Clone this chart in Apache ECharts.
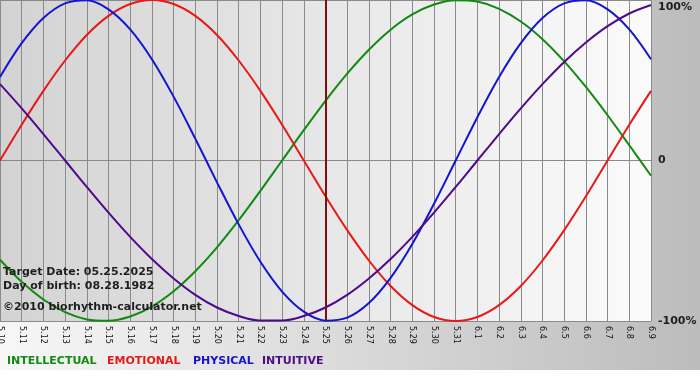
<!DOCTYPE html>
<html>
<head>
<meta charset="utf-8">
<script src="https://cdn.jsdelivr.net/npm/echarts@6/dist/echarts.min.js"></script>
<style>
  html, body { margin: 0; padding: 0; background: #fff; }
  #bio { width: 700px; height: 380px;
         background: linear-gradient(to right, #f7f7f7, #bcbcbc) top left / 100% 370px no-repeat, #fff; }
</style>
</head>
<body>
<div id="bio"></div>
<script>
/**
 * biorhythm chart 05.10 - 06.09
 */
var days = ['5.10','5.11','5.12','5.13','5.14','5.15','5.16','5.17','5.18','5.19','5.20',
            '5.21','5.22','5.23','5.24','5.25','5.26','5.27','5.28','5.29','5.30','5.31',
            '6.1','6.2','6.3','6.4','6.5','6.6','6.7','6.8','6.9'];
var intellectual = [-61.8,-75.6,-86.6,-94.5,-99.0,-99.9,-97.2,-91.0,-81.5,-69.0,-54.1,-37.2,-18.9,0,
                    18.9,37.2,54.1,69.0,81.5,91.0,97.2,99.9,99.0,94.5,86.6,75.6,61.8,45.8,28.2,9.5,-9.5];
var emotional    = [0,22.3,43.4,62.3,78.2,90.1,97.5,100,97.5,90.1,78.2,62.3,43.4,22.3,0,
                    -22.3,-43.4,-62.3,-78.2,-90.1,-97.5,-100,-97.5,-90.1,-78.2,-62.3,-43.4,-22.3,0,22.3,43.4];
var physical     = [52.0,73.1,88.8,97.9,99.8,94.2,81.7,63.1,39.8,13.6,-13.6,-39.8,-63.1,-81.7,-94.2,
                    -99.8,-97.9,-88.8,-73.1,-52.0,-27.0,0,27.0,52.0,73.1,88.8,97.9,99.8,94.2,81.7,63.1];
var intuitive    = [47.6,32.5,16.5,0,-16.5,-32.5,-47.6,-61.4,-73.5,-83.7,-91.6,-96.9,-99.7,-99.7,-96.9,
                    -91.6,-83.7,-73.5,-61.4,-47.6,-32.5,-16.5,0,16.5,32.5,47.6,61.4,73.5,83.7,91.6,96.9];
var targetDay = '5.25';
var yTicks = { '100': '100%', '0': '0', '-100': '-100%' };
var names = ['INTELLECTUAL', 'EMOTIONAL', 'PHYSICAL', 'INTUITIVE'];
var colors = ['#118a11', '#e81818', '#1414d2', '#4e0a8a'];
var infoLines = ['Target Date: 05.25.2025', 'Day of birth: 08.28.1982', '\u00a92010 biorhythm-calculator.net'];

var Bio = echarts.init(document.getElementById('bio'));
var font = 'DejaVu Sans, Verdana, sans-serif';

function mkSeries(i, data) {
    var s = {
        name: names[i],
        type: 'line',
        smooth: 0.35,
        symbol: 'none',
        data: data,
        lineStyle: { color: colors[i], width: 2 },
        itemStyle: { color: colors[i] },
        animation: false
    };
    return s;
}

var series = [mkSeries(0, intellectual), mkSeries(1, emotional), mkSeries(2, physical), mkSeries(3, intuitive)];
// target date line
series[0].markLine = {
    silent: true,
    symbol: ['none', 'none'],
    label: { show: false },
    lineStyle: { color: '#7a1212', width: 2, type: 'solid' },
    data: [{ xAxis: targetDay }]
};

var legendX = [7, 107, 193, 262];
var graphics = [];
names.forEach(function (n, i) {
    graphics.push({
        type: 'text', left: legendX[i], top: 356,
        style: { text: n, fill: colors[i], font: 'bold 11px ' + font }
    });
});
var infoY = [272, 286, 307];
infoLines.forEach(function (t, i) {
    graphics.push({
        type: 'text', x: 3, y: infoY[i],
        style: { text: t, fill: '#1e1e1e', font: 'bold 11px ' + font, verticalAlign: 'middle' },
        z: 100
    });
});

var option = {
    animation: false,
    grid: {
        show: true,
        left: 0, right: 49, top: 0, bottom: 59,
        outerBoundsMode: 'none',
        containLabel: false,
        borderWidth: 0,
        backgroundColor: new echarts.graphic.LinearGradient(0, 0, 1, 0, [
            { offset: 0, color: '#d3d3d3' },
            { offset: 1, color: '#fbfbfb' }
        ])
    },
    xAxis: {
        type: 'category',
        boundaryGap: false,
        data: days,
        axisLine: { lineStyle: { color: '#8a8a8a', width: 1 } },
        axisTick: { show: true, length: 3, interval: 0, lineStyle: { color: '#8a8a8a' } },
        splitLine: { show: true, interval: 0, lineStyle: { color: '#8a8a8a', width: 1 } },
        axisLabel: {
            interval: 0,
            rotate: -90,
            margin: 5,
            fontSize: 8,
            fontFamily: font,
            color: '#111'
        }
    },
    yAxis: {
        type: 'value',
        position: 'right',
        min: -100, max: 100, interval: 100,
        axisLine: { show: false },
        axisTick: { show: false },
        splitLine: { lineStyle: { color: '#8a8a8a', width: 1 } },
        axisLabel: {
            margin: 7,
            formatter: function (v) {
                if (v === 100) return '{t|' + yTicks['100'] + '}';
                return yTicks[String(v)];
            },
            rich: { t: { padding: [14, 0, 0, 0], fontSize: 11, fontWeight: 'bold', fontFamily: font, color: '#1e1e1e' } },
            fontSize: 11,
            fontWeight: 'bold',
            fontFamily: font,
            color: '#1e1e1e'
        }
    },
    graphic: graphics,
    series: series
};

Bio.setOption(option);
</script>
</body>
</html>
